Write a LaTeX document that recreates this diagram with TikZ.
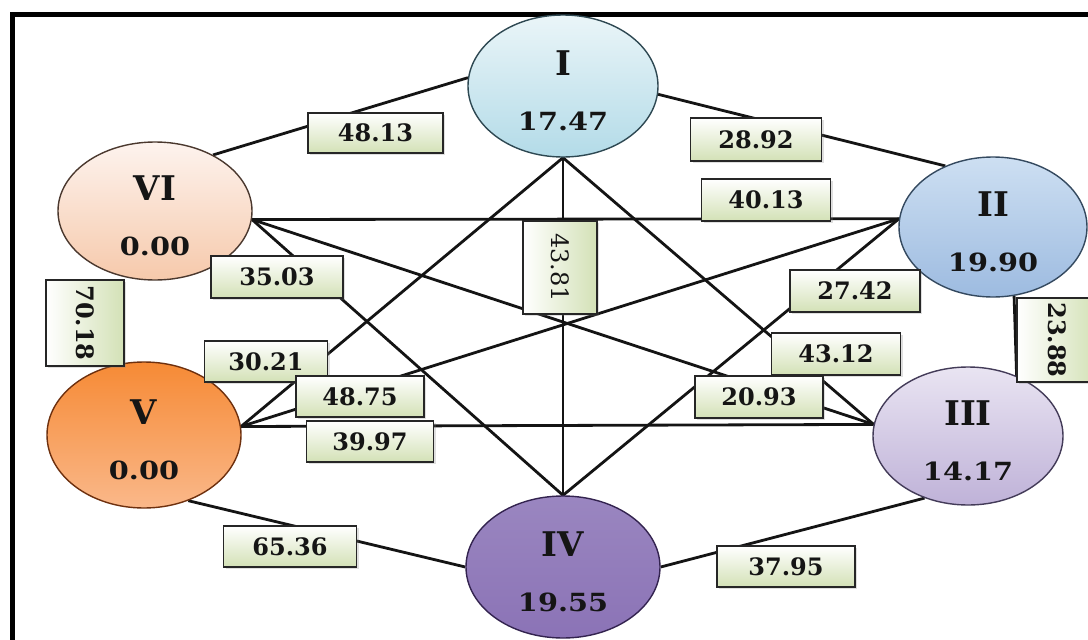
\documentclass[tikz,border=0pt]{standalone}
\usepackage{fontspec}
\setmainfont{DejaVu Serif}
\newfontfamily\cnum[FakeStretch=1.15]{DejaVu Serif}
\usetikzlibrary{shapes.geometric,shadows}
\definecolor{boxgreen}{HTML}{D3E1B6}
\definecolor{txt}{HTML}{151515}
\definecolor{Itop}{HTML}{EAF5F8}\definecolor{Ibot}{HTML}{B3DBE8}\definecolor{Ibd}{HTML}{2E4852}
\definecolor{VItop}{HTML}{FDF3EE}\definecolor{VIbot}{HTML}{F6C9AB}\definecolor{VIbd}{HTML}{4A382E}
\definecolor{IItop}{HTML}{CDDFF2}\definecolor{IIbot}{HTML}{9DBBE0}\definecolor{IIbd}{HTML}{34495F}
\definecolor{IIItop}{HTML}{E9E4F2}\definecolor{IIIbot}{HTML}{BFB2D8}\definecolor{IIIbd}{HTML}{433B58}
\definecolor{Vtop}{HTML}{F68A35}\definecolor{Vbot}{HTML}{FAB88A}\definecolor{Vbd}{HTML}{6E300E}
\definecolor{IVtop}{HTML}{9A86C0}\definecolor{IVmid}{HTML}{7456A0}\definecolor{IVbot}{HTML}{8B73B6}\definecolor{IVbd}{HTML}{33234F}
\pgfdeclarelayer{bg}
\pgfsetlayers{bg,main}
\begin{document}
\begin{tikzpicture}[x=1pt,y=-1pt,
  vert/.style={ellipse, inner sep=0pt, line width=1.4pt},
  conn/.style={line width=2.8pt, draw=black!92},
  lbl/.style={draw=black!85, line width=1.6pt, top color=white, bottom color=boxgreen,
    minimum width=130pt, minimum height=42pt, inner sep=0pt, text=txt,
    font=\bfseries\fontsize{24}{28}\selectfont,
    drop shadow={opacity=0.25, shadow xshift=2pt, shadow yshift=-2pt}},
  vlbl/.style={lbl, rotate=-90, left color=white, right color=boxgreen},
  roman/.style={font=\bfseries\fontsize{34}{36}\selectfont, anchor=base, text=txt, inner sep=0pt},
  cval/.style={font=\cnum\bfseries\fontsize{25}{28}\selectfont, anchor=base, text=txt, inner sep=0pt},
]
\useasboundingbox (0,0) rectangle (1088,640);
\begin{pgfonlayer}{bg}
\fill[white] (0,0) rectangle (1088,640);
\draw[line width=5pt] (12.5,700) -- (12.5,14.5) -- (1100,14.5);
\end{pgfonlayer}

% vertices
\node[vert, minimum width=190pt, minimum height=142pt, draw=Ibd, top color=Itop, bottom color=Ibot] (I) at (563,86) {};
\node[vert, minimum width=194pt, minimum height=138pt, draw=VIbd, top color=VItop, bottom color=VIbot] (VI) at (155,211) {};
\node[vert, minimum width=188pt, minimum height=140pt, draw=IIbd, top color=IItop, bottom color=IIbot] (II) at (993,227) {};
\node[vert, minimum width=190pt, minimum height=138pt, draw=IIIbd, top color=IIItop, bottom color=IIIbot] (III) at (968,436) {};
\node[vert, minimum width=194pt, minimum height=146pt, draw=Vbd, top color=Vtop, bottom color=Vbot] (V) at (144,435) {};
\node[vert, minimum width=194pt, minimum height=142pt, draw=IVbd, top color=IVtop, middle color=IVmid, bottom color=IVbot] (IV) at (563,567) {};

% vertex texts
\node[roman] (In) at ([yshift=11pt]I.center) {I};
\node[cval] (Iv) at ([yshift=-44pt]I.center) {17.47};
\node[roman] (VIn) at ([yshift=11pt]VI.center) {VI};
\node[cval] (VIv) at ([yshift=-44pt]VI.center) {0.00};
\node[roman] (IIn) at ([yshift=11pt]II.center) {II};
\node[cval] (IIv) at ([yshift=-44pt]II.center) {19.90};
\node[roman] (IIIn) at ([yshift=11pt]III.center) {III};
\node[cval] (IIIv) at ([yshift=-44pt]III.center) {14.17};
\node[roman] (Vn) at ([yshift=11pt]V.center) {V};
\node[cval] (Vv) at ([yshift=-44pt]V.center) {0.00};
\node[roman] (IVn) at ([yshift=11pt]IV.center) {IV};
\node[cval] (IVv) at ([yshift=-44pt]IV.center) {19.55};

% connectors
\begin{pgfonlayer}{bg}
\draw[conn] (I.175) -- (VI.44);
\draw[conn] (I.-5) -- (II.128);
\draw[conn] (II.-73) -- (III.51);
\draw[conn] (V.-56) -- (IV.180);
\draw[conn] (IV.0) -- (III.235);
\draw[conn] (I.-90) -- (IV.90);
\draw[conn] (I.-90) -- (V.5);
\draw[conn] (I.-90) -- (III.173);
\draw[conn] (VI.-5) -- (II.175);
\draw[conn] (VI.-5) -- (III.173);
\draw[conn] (VI.-5) -- (IV.90);
\draw[conn] (II.175) -- (V.5);
\draw[conn] (II.175) -- (IV.90);
\draw[conn] (V.5) -- (III.173);
\end{pgfonlayer}

% edge labels
\node[lbl, minimum width=135pt, minimum height=40pt] (e4813) at (375.5,133) {48.13};
\node[lbl, minimum width=131pt, minimum height=43pt] (e2892) at (756,139.5) {28.92};
\node[lbl, minimum width=129pt] (e4013) at (766,200) {40.13};
\node[lbl, minimum width=132pt] (e3503) at (277,277) {35.03};
\node[vlbl, minimum width=93pt, minimum height=74pt, font=\fontsize{24}{28}\selectfont] (e4381) at (560,267.5) {43.81};
\node[vlbl, minimum width=86pt, minimum height=78pt] (e7018) at (85,323) {70.18};
\node[vlbl, minimum width=84pt, minimum height=80pt] (e2388) at (1057,340) {23.88};
\node[lbl, minimum width=130pt] (e2742) at (855,291) {27.42};
\node[lbl, minimum width=129pt] (e4312) at (836,354) {43.12};
\node[lbl, minimum width=128pt] (e2093) at (759,397) {20.93};
\node[lbl, minimum width=123pt, minimum height=41pt] (e3021) at (266,361.5) {30.21};
\node[lbl, minimum width=128pt, minimum height=41pt] (e4875) at (360,396.5) {48.75};
\node[lbl, minimum width=127pt, minimum height=41pt] (e3997) at (370,441.5) {39.97};
\node[lbl, minimum width=133pt, minimum height=41pt] (e6536) at (290,546.5) {65.36};
\node[lbl, minimum width=138pt, minimum height=41pt] (e3795) at (786,566.5) {37.95};
\end{tikzpicture}
\end{document}
